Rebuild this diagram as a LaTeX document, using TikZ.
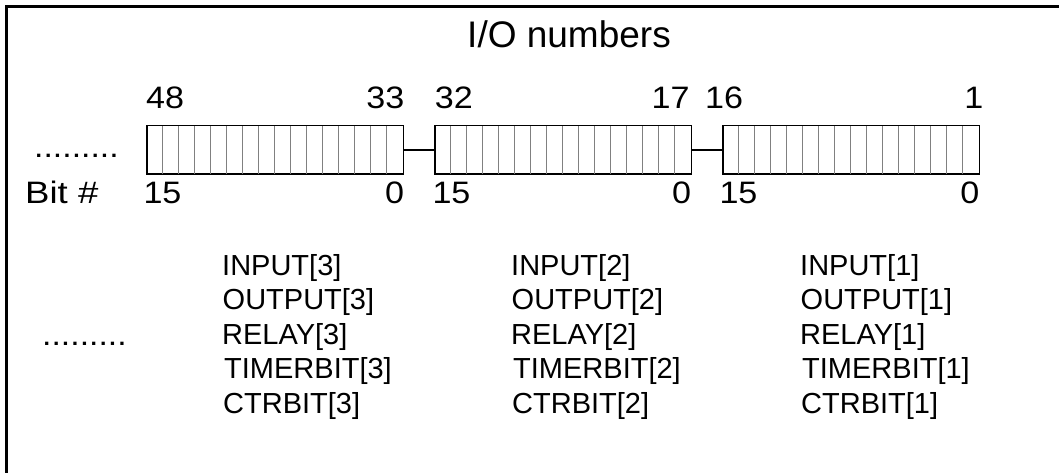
\documentclass[tikz,border=0pt]{standalone}
\usepackage{fontspec}
\setmainfont{Liberation Sans}
\newcommand{\hs}[2]{\scalebox{#1}[1]{#2}}
\tikzset{
  frame/.style={line width=2.5pt, line cap=rect},
  regbox/.style={draw=black, line width=1pt, minimum width=256pt, minimum height=48pt, inner sep=0pt},
  divider/.style={draw=black!50, line width=1pt},
  conn/.style={draw=black, line width=2pt},
  numtxt/.style={inner sep=0pt, font=\fontsize{31}{35}\selectfont},
  listtxt/.style={inner sep=0pt, anchor=base west, font=\fontsize{29}{34}\selectfont},
  titletxt/.style={inner sep=0pt, anchor=base, font=\fontsize{37}{42}\selectfont}
}
\begin{document}
\begin{tikzpicture}[x=1pt,y=-1pt]
\useasboundingbox (0,0) rectangle (1059,473);
% frame (top and left edges visible)
\coordinate (fTL) at (6.5,6.5);
\coordinate (fTR) at (1062,6.5);
\coordinate (fBL) at (6.5,476);
\draw[frame] (fBL) -- (fTL) -- (fTR);

% title
\node[titletxt] (title) at (569,48) {I/O numbers};

% registers
\node[regbox] (r3) at (275,150) {};
\node[regbox] (r2) at (563,150) {};
\node[regbox] (r1) at (851,150) {};
\foreach \r in {r3,r2,r1}{
  \foreach \i in {1,...,15}{
    \draw[divider] ([xshift=\i*16pt]\r.north west) -- ([xshift=\i*16pt]\r.south west);
  }
  \draw[line width=1pt] (\r.north west) rectangle (\r.south east);
}
\draw[conn] (r3.east) -- (r2.west);
\draw[conn] (r2.east) -- (r1.west);

% I/O numbers above
\node[numtxt, anchor=base west] (n48) at (146,109) {\hs{1.1}{48}};
\node[numtxt, anchor=base east] (n33) at (404.5,109) {\hs{1.1}{33}};
\node[numtxt, anchor=base west] (n32) at (434.6,109) {\hs{1.1}{32}};
\node[numtxt, anchor=base east] (n17) at (689.7,109) {\hs{1.1}{17}};
\node[numtxt, anchor=base west] (n16) at (705,109) {\hs{1.1}{16}};
\node[numtxt, anchor=base east] (n1) at (983.5,109) {\hs{1.1}{1}};

% bit numbers below
\node[numtxt, anchor=base west] (b15c) at (143.3,203) {\hs{1.1}{15}};
\node[numtxt, anchor=base east] (b0c) at (404.4,203) {\hs{1.1}{0}};
\node[numtxt, anchor=base west] (b15b) at (432.3,203) {\hs{1.1}{15}};
\node[numtxt, anchor=base east] (b0b) at (691.4,203) {\hs{1.1}{0}};
\node[numtxt, anchor=base west] (b15a) at (719.3,203) {\hs{1.1}{15}};
\node[numtxt, anchor=base east] (b0a) at (979.4,203) {\hs{1.1}{0}};
\node[numtxt, anchor=base west] (bit) at (25,204) {\hs{1.18}{Bit \#}};

% dots
\node[numtxt, anchor=base west] (dots1) at (34,158) {\hs{1.09}{.........}};
\node[numtxt, anchor=base west] (dots2) at (42,345) {\hs{1.09}{.........}};

% name lists
\foreach \c/\x in {3/222, 2/511, 1/800}{
  \node[listtxt] (in\c) at (\x,275) {INPUT[\c]};
  \node[listtxt] (out\c) at (\x+0.5,309.5) {OUTPUT[\c]};
  \node[listtxt] (rel\c) at (\x,344) {RELAY[\c]};
  \node[listtxt] (tim\c) at (\x+2,378.5) {TIMERBIT[\c]};
  \node[listtxt] (ctr\c) at (\x+1,413) {CTRBIT[\c]};
}
\end{tikzpicture}
\end{document}
